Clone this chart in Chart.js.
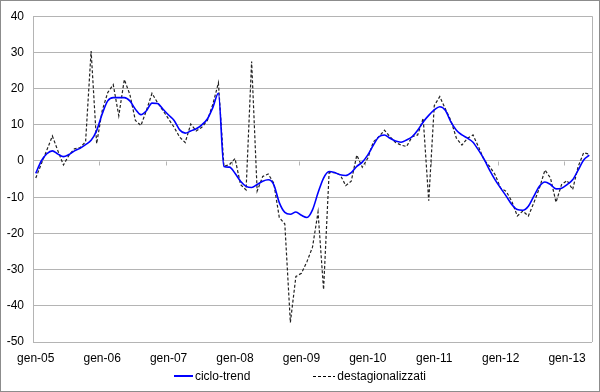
<!DOCTYPE html>
<html>
<head>
<meta charset="utf-8">
<script src="https://cdn.jsdelivr.net/npm/chart.js@4"></script>
<style>
  body { margin: 0; background: #fff; }
  #wrap { position: relative; width: 600px; height: 392px; }
  #wrap canvas { position: absolute; left: 0; top: 0; }
  #frame { position: absolute; inset: 0; border: 1px solid #8c8c8c; pointer-events: none; }
  #legend {
    position: absolute; left: 0; top: 369px; width: 600px;
    display: flex; justify-content: center; gap: 63px;
    font: 12px 'Liberation Sans', Arial, sans-serif; color: #000;
  }
  #legend .item { display: flex; align-items: center; }
  #legend .line { display: inline-block; width: 19px; margin-right: 2px; }
  #legend .solid { height: 2px; background: #0000ff; }
  #legend .dash { height: 1px; background: repeating-linear-gradient(to right, #000 0 3px, transparent 3px 5px); width: 22px; }
</style>
</head>
<body>
<div id="wrap">
  <canvas id="chart" width="600" height="392"></canvas>
  <div id="legend">
    <span class="item"><span class="line solid"></span>ciclo-trend</span>
    <span class="item"><span class="line dash"></span>destagionalizzati</span>
  </div>
  <div id="frame"></div>
</div>
<script>
// mesi e anni (gen-05 ... mag-13)
const mesi = ['gen', 'feb', 'mar', 'apr', 'mag', 'giu', 'lug', 'ago', 'set', 'ott', 'nov', 'dic'];
const anni = ['05', '06', '07', '08', '09', '10', '11', '12', '13'];
const nMesi = 101;

const cicloTrend = [
  -3.4, 0.0, 2.0, 2.8, 1.9, 1.2, 1.8, 2.8, 3.5, 4.5, 5.7, 8.4,
  13.0, 16.6, 17.5, 17.5, 17.5, 16.6, 14.3, 12.8, 13.9, 16.0, 15.9, 14.3,
  12.7, 11.2, 8.6, 7.7, 8.3, 8.9, 10.0, 11.6, 14.8, 18.7, -1.5, -1.7,
  -3.4, -5.6, -7.0, -7.3, -6.5, -5.6, -5.2, -6.5, -11.5, -14.2, -14.7, -14.1,
  -15.0, -15.6, -13.5, -8.8, -4.7, -2.9, -3.2, -3.8, -4.0, -3.2, -1.5, -0.3,
  1.7, 4.4, 6.7, 7.2, 6.3, 5.5, 5.2, 5.8, 6.7, 8.5, 10.8, 12.6,
  14.1, 15.0, 14.0, 10.8, 8.5, 7.2, 6.3, 5.2, 3.0, 0.5, -2.5, -5.2,
  -7.5, -9.7, -12.0, -13.4, -13.6, -12.5, -9.7, -7.0, -5.8, -6.5, -7.7, -7.5,
  -6.5, -5.2, -2.5, 0.3, 1.6
];

const destagionalizzati = [
  -4.7, -0.8, 3.0, 6.9, 2.8, -1.1, 1.6, 3.4, 3.7, 5.3, 30.4, 4.8,
  13.9, 18.9, 21.1, 12.5, 22.5, 18.4, 11.2, 9.8, 14.0, 18.7, 16.1, 13.9,
  11.6, 9.3, 6.6, 5.1, 10.2, 8.3, 9.3, 11.2, 15.7, 21.6, -1.5, -1.0,
  0.7, -6.5, -8.0, 27.5, -8.3, -4.3, -3.6, -6.1, -15.6, -17.4, -44.6, -31.9,
  -31.0, -27.8, -23.8, -14.1, -35.5, -3.2, -3.2, -3.8, -6.8, -5.6, 1.6, -1.7,
  0.8, 5.3, 6.7, 8.5, 6.7, 5.1, 4.4, 4.0, 6.7, 7.2, 11.8, -11.0,
  15.3, 17.8, 14.4, 11.2, 6.3, 4.4, 6.3, 7.2, 3.9, 0.3, -1.5, -3.8,
  -7.5, -8.4, -11.1, -15.2, -13.8, -15.2, -11.5, -7.5, -2.5, -4.7, -11.4, -6.5,
  -5.4, -7.9, -1.5, 2.3, 1.9
];

const etichette = [];
for (let i = 0; i < nMesi; i++) {
  etichette.push(mesi[i % 12] + '-' + anni[Math.floor(i / 12)]);
}

const GRID = '#b4b4b4';
const FONT = { family: "'Liberation Sans', Arial, sans-serif", size: 12 };

// bordo destro dell'area e tacche dell'asse x sulla linea dello zero
const areaPlugin = {
  id: 'area',
  beforeDatasetsDraw(chart) {
    const { ctx, chartArea: a, scales: { x, y } } = chart;
    ctx.save();
    ctx.strokeStyle = GRID;
    ctx.lineWidth = 1;
    ctx.beginPath();
    ctx.moveTo(Math.round(a.right) + 0.5, a.top);
    ctx.lineTo(Math.round(a.right) + 0.5, a.bottom);
    const y0 = Math.round(y.getPixelForValue(0)) + 0.5;
    const half = (x.getPixelForValue(1) - x.getPixelForValue(0)) / 2;
    for (let i = 12; i < nMesi; i += 12) {
      const px = Math.round(x.getPixelForValue(i) - half) + 0.5;
      ctx.moveTo(px, y0);
      ctx.lineTo(px, y0 + 4);
    }
    ctx.stroke();
    ctx.restore();
  }
};

new Chart(document.getElementById('chart'), {
  type: 'line',
  data: {
    labels: etichette,
    datasets: [
      {
        label: 'ciclo-trend',
        data: cicloTrend,
        borderColor: '#0000ff',
        borderWidth: 1.6,
        pointRadius: 0,
        cubicInterpolationMode: 'monotone',
        fill: false,
      },
      {
        label: 'destagionalizzati',
        data: destagionalizzati,
        borderColor: '#222',
        borderWidth: 1.2,
        borderDash: [3, 2],
        pointRadius: 0,
        tension: 0,
        fill: false,
      },
    ],
  },
  options: {
    responsive: false,
    animation: false,
    layout: { padding: { top: 11, right: 8, left: 0, bottom: 0 } },
    plugins: {
      legend: { display: false },
      tooltip: { enabled: false },
    },
    scales: {
      x: {
        offset: true,
        grid: { display: false },
        border: { display: false },
        ticks: {
          autoSkip: false,
          maxRotation: 0,
          padding: 1,
          color: '#000',
          font: FONT,
          callback(v, i) { return i % 12 === 0 ? this.getLabelForValue(v) : ''; },
        },
        afterFit(s) { s.height = 50; },
      },
      y: {
        min: -50,
        max: 40,
        ticks: { stepSize: 10, color: '#000', font: FONT, padding: 9 },
        grid: { color: GRID, drawTicks: false },
        border: { color: GRID },
        afterFit(s) { s.width = 33; },
      },
    },
  },
  plugins: [areaPlugin],
});
</script>
</body>
</html>
